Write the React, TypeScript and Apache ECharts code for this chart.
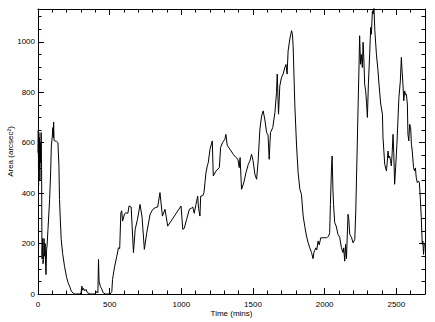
import React, { useEffect, useRef } from "react";
import * as echarts from "echarts";

const times = [
  0, 2, 4, 6, 8, 10, 13, 16, 19, 22, 25, 28, 32, 35, 39, 42, 46, 50, 53, 56, 60, 63, 70, 81, 88, 93, 99, 104, 107, 109,
  112, 116, 130, 139, 146, 150, 156, 162, 172, 185, 200, 210, 220, 232, 244, 255, 295, 300, 306, 312, 318, 325, 335, 345,
  364, 400, 410, 418, 422, 426, 435, 445, 455, 470, 503, 515, 520, 535, 550, 561, 570, 578, 584, 590, 604, 613, 627, 635,
  650, 666, 678, 694, 712, 726, 742, 759, 782, 800, 817, 835, 851, 868, 886, 905, 998, 1010, 1020, 1037, 1056, 1070, 1080,
  1090, 1102, 1114, 1120, 1130, 1135, 1150, 1158, 1165, 1172, 1181, 1188, 1200, 1216, 1223, 1242, 1265, 1274, 1288, 1304,
  1311, 1320, 1339, 1362, 1381, 1395, 1404, 1410, 1420, 1435, 1451, 1467, 1478, 1490, 1500, 1513, 1525, 1535, 1548, 1560,
  1571, 1583, 1595, 1605, 1613, 1622, 1638, 1653, 1664, 1669, 1678, 1687, 1699, 1710, 1722, 1730, 1738, 1745, 1757, 1769,
  1775, 1780, 1792, 1804, 1815, 1827, 1838, 1850, 1861, 1873, 1885, 1896, 1908, 1919, 1925, 1938, 1945, 1954, 1962, 1973,
  1990, 2012, 2020, 2028, 2035, 2040, 2047, 2052, 2058, 2062, 2070, 2080, 2093, 2105, 2117, 2128, 2133, 2140, 2146, 2152,
  2163, 2168, 2175, 2187, 2198, 2210, 2217, 2226, 2233, 2240, 2244, 2250, 2255, 2263, 2268, 2273, 2279, 2286, 2292, 2298,
  2305, 2314, 2321, 2326, 2333, 2338, 2344, 2350, 2361, 2372, 2379, 2391, 2403, 2407, 2419, 2431, 2436, 2442, 2447, 2453,
  2459, 2465, 2470, 2477, 2482, 2488, 2495, 2504, 2511, 2518, 2528, 2535, 2540, 2546, 2552, 2558, 2565, 2570, 2577, 2581,
  2587, 2593, 2600, 2605, 2611, 2620, 2627, 2633, 2639, 2646, 2655, 2661, 2667, 2674, 2681, 2685, 2690, 2695,
];

const areas = [
  560, 650, 430, 640, 500, 620, 450, 600, 520, 640, 500, 140, 220, 120, 137, 220, 150, 200, 110, 77, 177, 190, 260, 375, 480,
  587, 620, 660, 620, 682, 610, 607, 605, 600, 508, 375, 290, 216, 160, 110, 65, 45, 31, 12, 4, 0, 0, 5, 31, 15, 22, 12, 18,
  5, 0, 0, 10, 5, 137, 51, 30, 20, 5, 0, 0, 10, 58, 110, 150, 183, 180, 322, 330, 289, 318, 322, 320, 349, 345, 164, 256, 296,
  355, 305, 177, 243, 316, 335, 342, 345, 402, 309, 336, 269, 349, 256, 260, 296, 336, 340, 345, 320, 355, 388, 340, 309,
  388, 390, 402, 442, 481, 508, 521, 574, 607, 468, 488, 501, 581, 601, 614, 633, 590, 574, 554, 541, 534, 501, 541, 415,
  440, 481, 514, 527, 554, 530, 475, 455, 520, 653, 706, 726, 690, 640, 630, 534, 640, 660, 720, 799, 872, 713, 825, 859,
  872, 898, 910, 872, 964, 1011, 1044, 1030, 984, 746, 587, 481, 415, 395, 309, 269, 230, 203, 183, 165, 140, 165, 183, 175,
  210, 195, 223, 223, 223, 225, 230, 243, 355, 488, 547, 408, 355, 283, 270, 236, 225, 183, 164, 183, 130, 197, 140, 316,
  300, 236, 225, 203, 216, 329, 554, 740, 911, 1024, 911, 950, 898, 998, 940, 832, 805, 760, 700, 832, 951, 1057, 1030,
  1123, 1110, 1136, 1044, 951, 885, 832, 753, 713, 620, 514, 488, 520, 567, 540, 547, 530, 508, 550, 633, 560, 435, 500,
  594, 686, 779, 845, 938, 885, 832, 766, 805, 790, 792, 753, 633, 607, 673, 660, 594, 567, 501, 488, 500, 461, 442, 448,
  440, 382, 303, 197, 210, 157, 200,
];

const xMajorTicks = [0, 500, 1000, 1500, 2000, 2500];
const yMajorTicks = [0, 200, 400, 600, 800, 1000];

const X_MAX = 2700;
const Y_MAX = 1130;

const font = "Liberation Sans";

export default function App() {
  const ref = useRef<HTMLDivElement>(null);

  useEffect(() => {
    if (!ref.current) return;
    const chart = echarts.init(ref.current, null, { renderer: "svg" });
    const data = times.map((t, i) => [t, areas[i]]);
    const black = "#000";

    const mkX = (gridIndex: number, pos: "bottom" | "top", interval: number, major: boolean, labels: boolean) => ({
      type: "value",
      gridIndex,
      position: pos,
      min: 0,
      max: X_MAX,
      interval,
      offset: 0,
      name: labels ? "Time (mins)" : "",
      nameLocation: "middle",
      nameGap: 15,
      nameMoveOverlap: false,
      nameTextStyle: { color: black, fontSize: 8, fontFamily: font },
      axisLine: { show: major, onZero: false, lineStyle: { color: black, width: 1 } },
      axisTick: { show: true, inside: true, length: major ? 6 : 3.5, lineStyle: { color: black, width: 1 } },
      axisLabel: {
        show: labels,
        showMaxLabel: false,
        margin: 6,
        color: black,
        fontSize: 8,
        fontFamily: font,
        formatter: (v: number) => (xMajorTicks.includes(v) ? String(v) : ""),
      },
      splitLine: { show: false },
    });

    const mkY = (gridIndex: number, pos: "left" | "right", interval: number, major: boolean, labels: boolean) => ({
      type: "value",
      gridIndex,
      position: pos,
      min: 0,
      max: Y_MAX,
      interval,
      offset: 0,
      name: labels ? "Area (arcsec²)" : "",
      nameLocation: "middle",
      nameGap: 24,
      nameRotate: 90,
      nameMoveOverlap: false,
      nameTextStyle: { color: black, fontSize: 8, fontFamily: font },
      axisLine: { show: major, onZero: false, lineStyle: { color: black, width: 1 } },
      axisTick: { show: true, inside: true, length: major ? 6 : 3.5, lineStyle: { color: black, width: 1 } },
      axisLabel: {
        show: labels,
        showMaxLabel: false,
        margin: 3,
        color: black,
        fontSize: 8,
        fontFamily: font,
        formatter: (v: number) => (yMajorTicks.includes(v) ? String(v) : ""),
      },
      splitLine: { show: false },
    });

    const gridBox = { left: 38, right: 10, top: 9, bottom: 28, containLabel: false, outerBoundsMode: "none" };

    chart.setOption({
      animation: false,
      backgroundColor: "#fff",
      grid: [gridBox, { ...gridBox }],
      xAxis: [
        mkX(0, "bottom", 500, true, true),
        mkX(0, "top", 500, true, false),
        mkX(1, "bottom", 100, false, false),
        mkX(1, "top", 100, false, false),
      ],
      yAxis: [
        mkY(0, "left", 200, true, true),
        mkY(0, "right", 200, true, false),
        mkY(1, "left", 50, false, false),
        mkY(1, "right", 50, false, false),
      ],
      series: [
        {
          type: "line",
          xAxisIndex: 0,
          yAxisIndex: 0,
          data,
          showSymbol: false,
          symbol: "none",
          clip: true,
          lineStyle: { color: black, width: 1 },
        },
      ],
    });
    return () => chart.dispose();
  }, []);

  return (
    <div
      ref={ref}
      style={{ position: "fixed", left: 0, top: 0, width: 435, height: 322, background: "#fff" }}
    />
  );
}
